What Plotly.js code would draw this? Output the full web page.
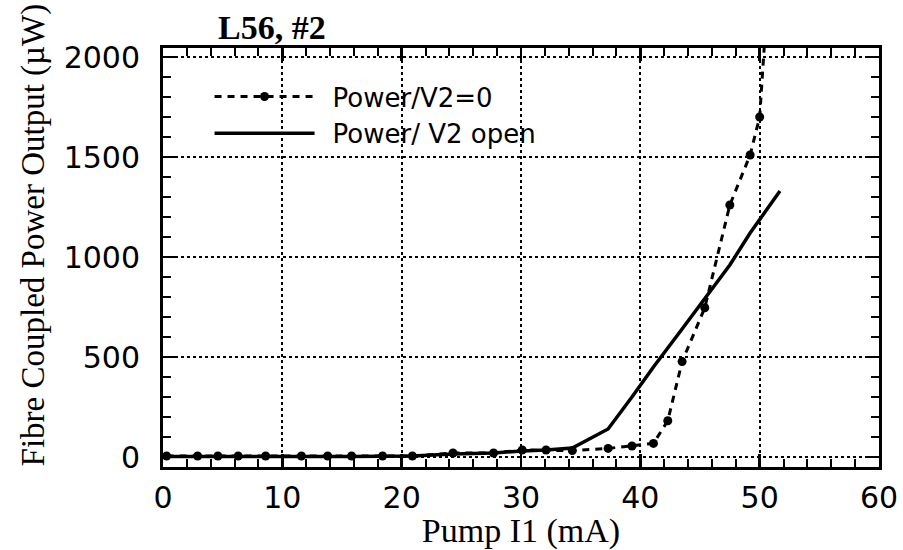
<!DOCTYPE html>
<html>
<head>
<meta charset="utf-8">
<script src="https://cdn.plot.ly/plotly-3.0.1.min.js"></script>
<style>html,body{margin:0;padding:0;background:#fff;}#chart{width:903px;height:550px;}</style>
</head>
<body>
<div id="chart"></div>
<script>
// Power/V2=0 (dotted with markers)
const currentV2Zero = [0.3, 2.9, 4.6, 6.3, 8.6, 11.6, 13.8, 15.8, 18.4, 20.9, 24.3, 27.7, 30.1, 32.1, 34.3, 37.3, 39.3, 41.1, 42.3, 43.5, 45.4, 47.5, 49.2, 50.0, 50.6];
const powerV2Zero   = [5, 5, 5, 5, 5, 5, 5, 5, 5, 5, 20, 20, 35, 35, 32, 43, 55, 68, 181, 477, 746, 1260, 1510, 1700, 2250];
// Power/ V2 open (solid)
const currentV2Open = [0.3, 2.9, 4.6, 6.3, 8.6, 11.6, 13.8, 15.8, 18.4, 20.9, 24.3, 27.7, 30.1, 32.1, 34.3, 37.3, 39.3, 41.1, 43.5, 45.4, 47.5, 49.2, 51.7];
const powerV2Open   = [2, 3, 3, 3, 3, 3, 3, 3, 3, 5, 15, 20, 30, 35, 45, 140, 300, 450, 640, 790, 960, 1120, 1330];

const seriesNames = ["Power/V2=0", "Power/ V2 open"];
const chartTitle = "L56, #2";
const xTitle = "Pump I1 (mA)";
const yTitle = "Fibre Coupled Power Output (\u00b5W)";
const xTicks = [0, 10, 20, 30, 40, 50, 60];
const yTicks = [0, 500, 1000, 1500, 2000];
const xRange = [0, 60];
const yRange = [-50, 2045];

const traces = [
  {
    x: currentV2Zero, y: powerV2Zero, name: "\u2002" + seriesNames[0],
    mode: "lines+markers",
    line: {color: "#000", width: 3, dash: "7px,6px"},
    marker: {color: "#000", size: 9, symbol: "circle"}
  },
  {
    x: currentV2Open, y: powerV2Open, name: "\u2002" + seriesNames[1],
    mode: "lines",
    line: {color: "#000", width: 3.5}
  }
];

const axisCommon = {
  showline: true, linecolor: "#000", linewidth: 3, mirror: "ticks",
  ticks: "inside", ticklen: 13, tickwidth: 2.5, tickcolor: "#000",
  showgrid: true, gridcolor: "#000", gridwidth: 2, griddash: "dot",
  zeroline: false,
  tickfont: {family: "DejaVu Sans", size: 30, color: "#000"},
  minor: {ticks: "inside", ticklen: 8, tickwidth: 2, tickcolor: "#000", showgrid: false}
};

const mirrorAxis = {
  showline: false, showgrid: false, zeroline: false, showticklabels: false,
  ticks: "inside", ticklen: 13, tickwidth: 2.5, tickcolor: "#000"
};

const layout = {
  width: 903, height: 550,
  paper_bgcolor: "#fff", plot_bgcolor: "#fff",
  margin: {l: 163, r: 24, t: 48, b: 83},
  showlegend: true,
  title: {
    text: "<b>" + chartTitle + "</b>",
    font: {family: "Liberation Serif", size: 34, color: "#000"},
    x: 0.2414, xanchor: "left", xref: "container",
    y: 0.95, yanchor: "middle", yref: "container"
  },
  xaxis: Object.assign({}, axisCommon, {
    range: xRange, tickvals: xTicks, ticktext: xTicks.map(String),
    minor: Object.assign({}, axisCommon.minor, {dtick: 2, tick0: 0}),
    ticklabelstandoff: 2,
    title: {text: xTitle, font: {family: "Liberation Serif", size: 34, color: "#000"}, standoff: 0}
  }),
  yaxis: Object.assign({}, axisCommon, {
    range: yRange, tickvals: yTicks, ticktext: yTicks.map(String),
    minor: Object.assign({}, axisCommon.minor, {dtick: 100, tick0: 0}),
    ticklabelstandoff: 14
  }),
  xaxis2: Object.assign({}, mirrorAxis, {
    overlaying: "x", side: "top", anchor: "y", range: xRange, tickvals: xTicks,
    minor: {ticks: "inside", ticklen: 8, tickwidth: 2, tickcolor: "#000", dtick: 2, tick0: 0, showgrid: false}
  }),
  yaxis2: Object.assign({}, mirrorAxis, {
    overlaying: "y", side: "right", anchor: "x", range: yRange, tickvals: yTicks,
    minor: {ticks: "inside", ticklen: 8, tickwidth: 2, tickcolor: "#000", dtick: 100, tick0: 0, showgrid: false}
  }),
  legend: {
    x: 0.065, y: 0.94, xanchor: "left", yanchor: "top",
    bgcolor: "rgba(0,0,0,0)", borderwidth: 0,
    itemwidth: 100,
    font: {family: "DejaVu Sans", size: 26, color: "#000"},
    tracegroupgap: 0
  },
  annotations: [{
    text: yTitle, textangle: -90,
    xref: "paper", yref: "paper", x: -0.1816, y: 0.555,
    xanchor: "center", yanchor: "middle", showarrow: false,
    font: {family: "Liberation Serif", size: 33, color: "#000"}
  }]
};

Plotly.newPlot("chart", traces, layout, {staticPlot: true, displayModeBar: false});
</script>
</body>
</html>
